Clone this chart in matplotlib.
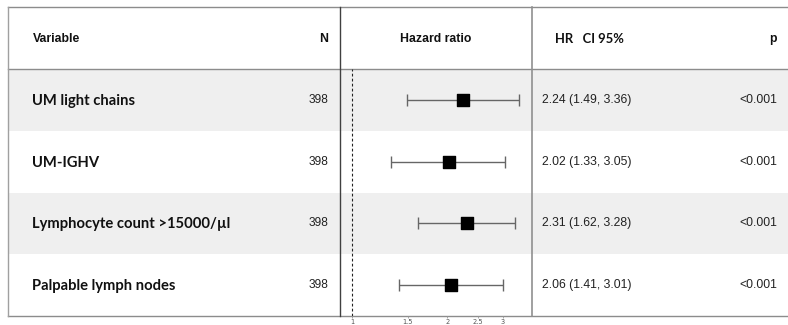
import matplotlib
matplotlib.use("Agg")
import matplotlib.pyplot as plt
from matplotlib.patches import Rectangle

# ---- data ----
variables = ["UM light chains", "UM-IGHV", "Lymphocyte count >15000/µl", "Palpable lymph nodes"]
n_obs = [398, 398, 398, 398]
hr = [2.24, 2.02, 2.31, 2.06]
ci_low = [1.49, 1.33, 1.62, 1.41]
ci_high = [3.36, 3.05, 3.28, 3.01]
p_values = ["<0.001", "<0.001", "<0.001", "<0.001"]
x_ticks = [1, 1.5, 2, 2.5, 3]
x_tick_labels = ["1", "1.5", "2", "2.5", "3"]

W, H = 788, 325
fig = plt.figure(figsize=(W / 100, H / 100), dpi=100)
fig.patch.set_facecolor("white")

# table canvas in pixel units
bg = fig.add_axes([0, 0, 1, 1])
bg.set_xlim(0, W)
bg.set_ylim(H, 0)
bg.axis("off")

left, right = 8, W
top, head_bot, bottom = 7, 69, 316
x_plot_l, x_plot_r = 340, 532
row_h = (bottom - head_bot) / len(variables)
band = "#efefef"
line_col = "#8c8c8c"

for i in range(len(variables)):
    y0 = head_bot + i * row_h
    if i % 2 == 0:
        bg.add_patch(Rectangle((left, y0), right - left, row_h, facecolor=band,
                               edgecolor="none", zorder=0))

# frame lines
bg.plot([left, right], [top, top], color=line_col, lw=1.0, zorder=2)
bg.plot([left, right], [head_bot, head_bot], color=line_col, lw=1.0, zorder=2)
bg.plot([left, right], [bottom, bottom], color=line_col, lw=1.0, zorder=2)
bg.plot([left, left], [top, bottom], color="#a0a0a0", lw=1.0, zorder=2)
bg.plot([x_plot_l, x_plot_l], [top, bottom], color="#404040", lw=1.0, zorder=2)
bg.plot([x_plot_r, x_plot_r], [top, bottom], color="#909090", lw=1.2, zorder=2)

# headers
hy = 39
arial = "Liberation Sans"
calib = "Lato"
bg.text(33, hy, "Variable", fontsize=8.8, fontweight="bold", family=arial,
        ha="left", va="center", color="#111111")
bg.text(328, hy, "N", fontsize=8.8, fontweight="bold", family=arial,
        ha="right", va="center", color="#111111")
bg.text(436, hy, "Hazard ratio", fontsize=8.8, fontweight="bold", family=arial,
        ha="center", va="center", color="#111111")
bg.text(555, hy, "HR   CI 95%", fontsize=9.4, fontweight="bold", family=calib,
        ha="left", va="center", color="#111111")
bg.text(777, hy, "p", fontsize=8.8, fontweight="bold", family=arial,
        ha="right", va="center", color="#111111")

# rows
for i, name in enumerate(variables):
    yc = head_bot + (i + 0.5) * row_h
    bg.text(32, yc + 1, name, fontsize=10.6, fontweight="bold", family=calib,
            ha="left", va="center", color="#111111")
    bg.text(328, yc, f"{n_obs[i]}", fontsize=8.6, family=arial,
            ha="right", va="center", color="#222222")
    bg.text(542, yc, f"{hr[i]:.2f} ({ci_low[i]:.2f}, {ci_high[i]:.2f})",
            fontsize=8.8, family=arial, ha="left", va="center", color="#222222")
    bg.text(777, yc, p_values[i], fontsize=8.8, family=arial,
            ha="right", va="center", color="#222222")

# forest plot
ax = fig.add_axes([x_plot_l / W, (H - bottom) / H, (x_plot_r - x_plot_l) / W,
                   (bottom - head_bot) / H])
ax.patch.set_alpha(0)
ax.set_xscale("log")
ax.set_xlim(0.916, 3.706)
ax.set_ylim(len(variables) - 0.5, -0.5)
for s in ["top", "right", "left", "bottom"]:
    ax.spines[s].set_visible(False)
ax.set_yticks([])
ax.minorticks_off()
ax.set_xticks(x_ticks)
ax.set_xticklabels(x_tick_labels)
ax.tick_params(axis="x", length=1.5, width=0.6, color="#999999", labelsize=4.8,
               labelcolor="#555555", pad=0.8)

ax.axvline(1, color="#222222", lw=0.8, ls=(0, (2.5, 2)), zorder=1)
ys = list(range(len(variables)))
ax.errorbar(hr, ys, xerr=[[h - l for h, l in zip(hr, ci_low)],
                          [u - h for h, u in zip(hr, ci_high)]],
            fmt="none", ecolor="#666666", elinewidth=1.0, capsize=4, capthick=1.0,
            zorder=2)
ax.scatter(hr, ys, marker="s", s=70, color="black", zorder=3)

fig.savefig("out.png", dpi=100)
